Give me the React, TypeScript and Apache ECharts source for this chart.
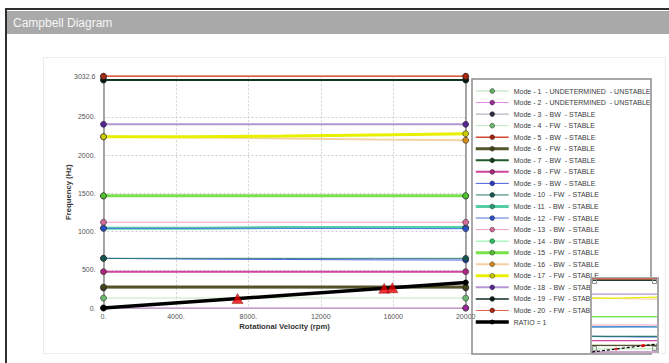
import React, { useEffect, useRef } from "react";
import * as echarts from "echarts";

const FONT = "'Liberation Sans', Arial, sans-serif";

// rotational velocity sample points (rpm)
const RPM = [0, 5000, 10000, 15000, 20000];

// natural frequencies (Hz) per mode at the RPM points
const MODE_1 = [0, 0, 0, 0, 0];
const MODE_2 = [0, 0, 0, 0, 0];
const MODE_3 = [262, 262, 262, 262, 262];
const MODE_4 = [130, 130, 130, 130, 130];
const MODE_5 = [3032.6, 3032.6, 3032.6, 3032.6, 3032.6];
const MODE_6 = [275, 275, 275, 275, 275];
const MODE_7 = [2985, 2985, 2985, 2985, 2985];
const MODE_8 = [475, 475, 475, 475, 475];
const MODE_9 = [650, 640, 635, 630, 628];
const MODE_10 = [650, 650, 650, 650, 650];
const MODE_11 = [1045, 1045, 1052, 1052, 1052];
const MODE_12 = [1043, 1043, 1043, 1040, 1038];
const MODE_13 = [1122, 1122, 1122, 1122, 1122];
const MODE_14 = [1465, 1465, 1465, 1465, 1465];
const MODE_15 = [1470, 1470, 1470, 1470, 1470];
const MODE_16 = [2240, 2232, 2220, 2205, 2195];
const MODE_17 = [2242, 2242, 2250, 2265, 2281];
const MODE_18 = [2404, 2404, 2404, 2404, 2404];
const MODE_19 = [2985, 2985, 2985, 2985, 2985];
const MODE_20 = [3032, 3032, 3032, 3032, 3032];

const MODE_FREQS = [
  MODE_1, MODE_2, MODE_3, MODE_4, MODE_5, MODE_6, MODE_7, MODE_8, MODE_9, MODE_10,
  MODE_11, MODE_12, MODE_13, MODE_14, MODE_15, MODE_16, MODE_17, MODE_18, MODE_19, MODE_20,
];

const S = "\u00a0";
const MODE_NAMES = [
  `Mode - 1 ${S}- UNDETERMINED ${S}- UNSTABLE`,
  `Mode - 2 ${S}- UNDETERMINED ${S}- UNSTABLE`,
  `Mode - 3 ${S}- BW ${S}- STABLE`,
  `Mode - 4 ${S}- FW ${S}- STABLE`,
  `Mode - 5 ${S}- BW ${S}- STABLE`,
  `Mode - 6 ${S}- FW ${S}- STABLE`,
  `Mode - 7 ${S}- BW ${S}- STABLE`,
  `Mode - 8 ${S}- FW ${S}- STABLE`,
  `Mode - 9 ${S}- BW ${S}- STABLE`,
  `Mode - 10 ${S}- FW ${S}- STABLE`,
  `Mode - 11 ${S}- BW ${S}- STABLE`,
  `Mode - 12 ${S}- FW ${S}- STABLE`,
  `Mode - 13 ${S}- BW ${S}- STABLE`,
  `Mode - 14 ${S}- BW ${S}- STABLE`,
  `Mode - 15 ${S}- FW ${S}- STABLE`,
  `Mode - 16 ${S}- BW ${S}- STABLE`,
  `Mode - 17 ${S}- FW ${S}- STABLE`,
  `Mode - 18 ${S}- BW ${S}- STABLE`,
  `Mode - 19 ${S}- FW ${S}- STABLE`,
  `Mode - 20 ${S}- FW ${S}- STABLE`,
];

const LINE_COLORS = [
  "#b5deb5", "#e78ae7", "#a3a3b3", "#bfeabf", "#d2482c", "#55552a", "#1f5a2a", "#d0449c", "#4a5ee0", "#2a7a72",
  "#55cfa5", "#4a78e0", "#f2a2c2", "#86f0a4", "#78e24a", "#f2d2a2", "#e8f000", "#b496d4", "#0f2a1c", "#e0604a",
];
const MARKER_COLORS = [
  "#5fae5f", "#9a2a9a", "#2a2a40", "#6cb86c", "#a32408", "#45451c", "#123f1a", "#a8287c", "#2838c0", "#175650",
  "#2a9a78", "#2a50c8", "#d26a98", "#2ec060", "#52c030", "#d48a18", "#c8c800", "#552494", "#061810", "#a82810",
];
const LINE_WIDTHS = [1, 1, 1, 1, 1.5, 3, 2, 2, 1, 1, 3, 1, 1, 1, 3, 2, 3, 2, 1.5, 1];

const RATIO_NAME = "RATIO = 1";
const RATIO_RPM = [0, 20000];
const RATIO_FREQ = [0, 333.3];

const CROSS_RPM = [7400, 15500, 15950];
const CROSS_FREQ = [123, 258, 266];

const X_MIN = 0;
const X_MAX = 20000;
const X_STEP = 4000;
const Y_MIN = 0;
const Y_MAX = 3032.6;
const Y_STEP = 500;
const Y_LABEL_VALUES = [0, 500, 1000, 1500, 2000, 2500, 3032.6];

export default function App() {
  const ref = useRef<HTMLDivElement>(null);

  useEffect(() => {
    if (!ref.current) return;
    const chart = echarts.init(ref.current, null, { renderer: "svg" });

    const mainSeries: any[] = MODE_FREQS.map((f, i) => ({
      type: "line",
      name: MODE_NAMES[i],
      xAxisIndex: 0,
      yAxisIndex: 0,
      data: RPM.map((r, j) =>
        j === 0 || j === RPM.length - 1 ? [r, f[j]] : { value: [r, f[j]], symbol: "none" }
      ),
      symbol: "circle",
      symbolSize: 6,
      showSymbol: true,
      clip: false,
      lineStyle: { color: LINE_COLORS[i], width: LINE_WIDTHS[i] },
      itemStyle: { color: MARKER_COLORS[i], borderColor: "#2a2a2a", borderWidth: 0.6 },
      z: 3,
    }));

    const ratioSeries = {
      type: "line",
      name: RATIO_NAME,
      xAxisIndex: 0,
      yAxisIndex: 0,
      data: RATIO_RPM.map((r, i) => [r, RATIO_FREQ[i]]),
      symbol: "circle",
      symbolSize: 6,
      clip: false,
      lineStyle: { color: "#000", width: 3.5 },
      itemStyle: { color: "#000" },
      z: 4,
    };

    const crossSeries = {
      type: "scatter",
      name: "crossings",
      xAxisIndex: 0,
      yAxisIndex: 0,
      data: CROSS_RPM.map((r, i) => [r, CROSS_FREQ[i]]),
      symbol: "triangle",
      symbolSize: [11, 10],
      itemStyle: { color: "#e80000", borderColor: "#700000", borderWidth: 0.5 },
      z: 5,
    };

    const miniSeries: any[] = MODE_FREQS.map((f, i) => ({
      type: "line",
      name: "mini-" + i,
      xAxisIndex: 1,
      yAxisIndex: 2,
      data: RPM.map((r, j) => [r, f[j]]),
      showSymbol: false,
      silent: true,
      clip: false,
      lineStyle: { color: LINE_COLORS[i], width: 1.2 },
      z: 20,
    }));
    miniSeries.push({
      type: "line",
      name: "mini-ratio",
      xAxisIndex: 1,
      yAxisIndex: 2,
      data: RATIO_RPM.map((r, i) => [r, RATIO_FREQ[i]]),
      showSymbol: false,
      silent: true,
      clip: false,
      lineStyle: { color: "#000", width: 1.2, type: [3, 2] },
      z: 21,
    });
    miniSeries.push({
      type: "scatter",
      name: "mini-cross",
      xAxisIndex: 1,
      yAxisIndex: 2,
      data: CROSS_RPM.map((r, i) => [r, CROSS_FREQ[i]]),
      symbol: "circle",
      symbolSize: 3,
      silent: true,
      itemStyle: { color: "#e80000" },
      z: 22,
    });

    const splitStyle = { show: true, lineStyle: { color: "#cfcfcf", width: 1, type: [2, 2] } };

    const legendData: any[] = MODE_NAMES.map((n, i) => ({
      name: n,
      lineStyle: { color: LINE_COLORS[i], width: LINE_WIDTHS[i] },
      itemStyle: { color: MARKER_COLORS[i], borderColor: "#2a2a2a", borderWidth: 0.5 },
    }));
    legendData.push({
      name: RATIO_NAME,
      lineStyle: { color: "#000", width: 3.5 },
      itemStyle: { color: "#000" },
    });

    chart.setOption({
      animation: false,
      backgroundColor: "#ffffff",
      textStyle: { fontFamily: FONT },
      grid: [
        { left: 103.5, right: 203.3, top: 76.3, bottom: 55, containLabel: false },
        { left: 592, right: 12, top: 279, bottom: 11, containLabel: false },
      ],
      xAxis: [
        {
          gridIndex: 0,
          type: "value",
          min: X_MIN,
          max: X_MAX,
          interval: X_STEP,
          name: "Rotational Velocity (rpm)",
          nameLocation: "middle",
          nameGap: 14,
          nameMoveOverlap: false,
          nameTextStyle: { fontWeight: "bold", fontSize: 7.7, color: "#333", fontFamily: FONT },
          axisLine: { show: true, lineStyle: { color: "#8a8a8a", width: 1 } },
          axisTick: { show: false },
          axisLabel: {
            fontSize: 7,
            color: "#555",
            margin: 5,
            fontFamily: FONT,
            formatter: (v: number) => (v >= 10000 ? String(v) : v + "."),
          },
          splitLine: splitStyle,
        },
        { gridIndex: 1, type: "value", min: X_MIN, max: X_MAX, show: false },
      ],
      yAxis: [
        {
          gridIndex: 0,
          type: "value",
          min: Y_MIN,
          max: Y_MAX,
          interval: Y_STEP,
          name: "Frequency (Hz)",
          nameLocation: "middle",
          nameGap: 31,
          nameMoveOverlap: false,
          nameRotate: 90,
          nameTextStyle: { fontWeight: "bold", fontSize: 7.7, color: "#333", fontFamily: FONT },
          axisLine: { show: true, lineStyle: { color: "#8a8a8a", width: 1.5 } },
          axisTick: { show: false },
          axisLabel: {
            fontSize: 7,
            color: "#555",
            margin: 8,
            fontFamily: FONT,
            customValues: Y_LABEL_VALUES,
            formatter: (v: number) => (Number.isInteger(v) ? v + "." : String(v)),
          },
          splitLine: splitStyle,
        },
        {
          gridIndex: 0,
          type: "value",
          position: "right",
          min: Y_MIN,
          max: Y_MAX,
          interval: Y_STEP,
          axisLine: { show: true, onZero: false, lineStyle: { color: "#8a8a8a", width: 1.5 } },
          axisTick: { show: false },
          axisLabel: { show: false },
          splitLine: { show: false },
        },
        { gridIndex: 1, type: "value", min: Y_MIN, max: Y_MAX, show: false },
      ],
      legend: {
        orient: "vertical",
        left: 474,
        top: 87.5,
        padding: 0,
        itemWidth: 33,
        itemHeight: 6,
        itemGap: 4.55,
        z: 4,
        selectedMode: false,
        data: legendData,
        textStyle: { fontSize: 7, color: "#3a3a3a", fontFamily: FONT },
      },
      graphic: {
        elements: [
          { type: "rect", shape: { x: 7, y: 11, width: 662, height: 23 }, style: { fill: "#a9a9a9" }, z: 1, silent: true },
          { type: "line", shape: { x1: 5, y1: 9, x2: 669, y2: 9 }, style: { stroke: "#2e2e2e", lineWidth: 2 }, z: 1, silent: true },
          { type: "line", shape: { x1: 6, y1: 8, x2: 6, y2: 363 }, style: { stroke: "#2e2e2e", lineWidth: 2 }, z: 1, silent: true },
          {
            type: "text",
            x: 13,
            y: 23,
            style: { text: "Campbell Diagram", fill: "#f6f6f6", fontSize: 12, fontFamily: FONT, verticalAlign: "middle" },
            z: 2,
            silent: true,
          },
          {
            type: "rect",
            shape: { x: 43.5, y: 57.5, width: 622, height: 296 },
            style: { fill: "none", stroke: "#ececec", lineWidth: 1 },
            z: 0,
            silent: true,
          },
          {
            type: "rect",
            shape: { x: 472, y: 79, width: 179, height: 275 },
            style: { fill: "none", stroke: "#8c8c8c", lineWidth: 1.5 },
            z: 1,
            silent: true,
          },
          {
            type: "rect",
            shape: { x: 591, y: 278, width: 67, height: 74 },
            style: { fill: "#fff", stroke: "#a8a8a8", lineWidth: 2 },
            z: 10,
            silent: true,
          },
          { type: "rect", shape: { x: 592.5, y: 279.5, width: 4, height: 4 }, style: { fill: "none", stroke: "#909090", lineWidth: 1 }, z: 30, silent: true },
          { type: "rect", shape: { x: 652.5, y: 279.5, width: 4, height: 4 }, style: { fill: "none", stroke: "#909090", lineWidth: 1 }, z: 30, silent: true },
          { type: "rect", shape: { x: 592.5, y: 346.5, width: 4, height: 4 }, style: { fill: "none", stroke: "#909090", lineWidth: 1 }, z: 30, silent: true },
          { type: "rect", shape: { x: 652.5, y: 346.5, width: 4, height: 4 }, style: { fill: "none", stroke: "#909090", lineWidth: 1 }, z: 30, silent: true },
        ],
      },
      series: [...mainSeries, ratioSeries, crossSeries, ...miniSeries],
    });

    return () => chart.dispose();
  }, []);

  return (
    <div
      ref={ref}
      style={{ position: "absolute", left: 0, top: 0, width: 669, height: 363, background: "#fff" }}
    />
  );
}
